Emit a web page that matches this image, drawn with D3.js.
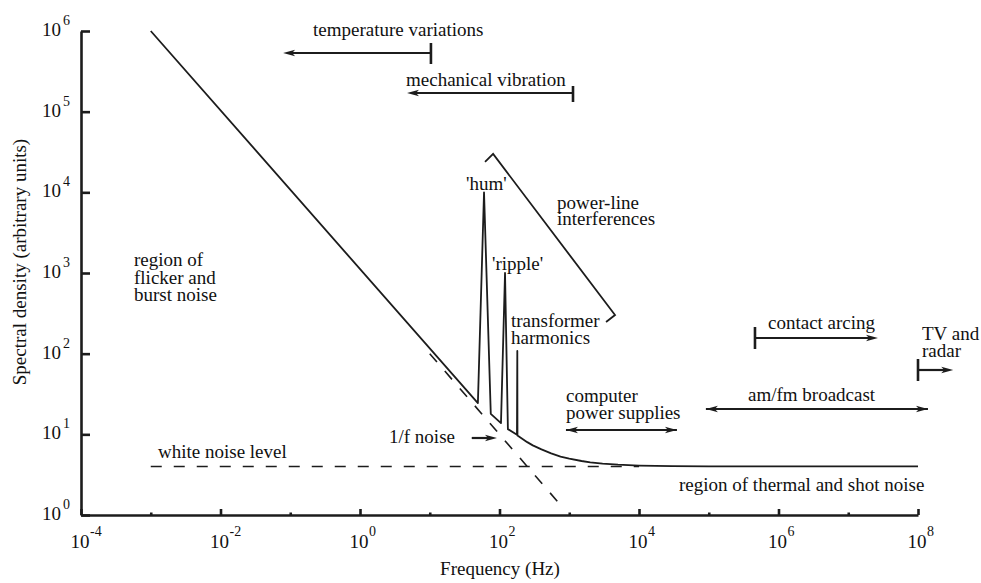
<!DOCTYPE html>
<html>
<head>
<meta charset="utf-8">
<script src="https://cdn.jsdelivr.net/npm/d3@7"></script>
<style>
  html, body { margin: 0; padding: 0; background: #fff; }
  svg { display: block; }
</style>
</head>
<body>
<script>
// Decade exponents for the axes
const xMajorExp = [-4, -2, 0, 2, 4, 6, 8];
const xMinorExp = [-3, -1, 1, 3, 5, 7];
const yMajorExp = [0, 1, 2, 3, 4, 5, 6];

// Total noise spectrum: [frequency Hz, spectral density]
const spectrum = [
  [1e-3, 1e6], [49, 24.4],
  [60, 1e4], [75, 17.9],
  [105, 13.8], [120, 1e3], [132, 11.6],
  [178, 9.9], [180, 108], [181, 9.7],
  [250, 8.0], [300, 7.3], [400, 6.5], [550, 5.8], [750, 5.3],
  [1000, 5.0], [1500, 4.67], [2000, 4.5], [3000, 4.33], [5000, 4.2],
  [1e4, 4.1], [3e4, 4.03], [1e5, 4.0], [1e8, 4.0]
];
// White noise floor and 1/f asymptote (dashed)
const whiteNoise = [[1e-3, 4], [1e4, 4]];
const flicker = [[10, 100], [750, 1.33]];
// Bracket over the power-line peaks
const powerLineBracket = [[62, 23800], [81, 29900], [4530, 301], [3370, 247]];

// Frequency ranges of interference sources
const sources = [
  { name: "temperature variations", from: 10.4, to: 0.079, bar: true },
  { name: "mechanical vibration", from: 1132, to: 4.72, bar: true },
  { name: "contact arcing", from: 4.6e5, to: 2.67e7, bar: true },
  { name: "TV and radar", from: 1e8, to: 3.2e8, bar: true },
  { name: "am/fm broadcast", from: 9.1e4, to: 1.39e8, bar: false },
  { name: "computer power supplies", from: 897, to: 3.5e4, bar: false },
  { name: "1/f noise", from: 40, to: 92, bar: false, single: true }
];

const W = 981, H = 583;
const FONT = "'Liberation Serif', Tinos, 'Times New Roman', Times, 'DejaVu Serif', serif";
const x = d3.scaleLog().domain([1e-4, 1e8]).range([81, 918]);
const y = d3.scaleLog().domain([1, 1e6]).range([515, 31]);

const svg = d3.select("body").append("svg").attr("width", W).attr("height", H)
  .attr("font-family", FONT);
const ink = "#1c1c1c";

// Axes with inward ticks
const xAx = svg.append("g").attr("transform", `translate(0,${y(1)})`)
  .call(d3.axisBottom(x).tickValues(xMajorExp.map(e => Math.pow(10, e)))
    .tickSize(-6).tickSizeOuter(0).tickFormat(""));
const xMin = svg.append("g").attr("transform", `translate(0,${y(1)})`)
  .call(d3.axisBottom(x).tickValues(xMinorExp.map(e => Math.pow(10, e)))
    .tickSize(-2.5).tickSizeOuter(0).tickFormat(""));
xMin.select(".domain").remove();
const yAx = svg.append("g").attr("transform", `translate(${x(1e-4)},0)`)
  .call(d3.axisLeft(y).tickValues(yMajorExp.map(e => Math.pow(10, e)))
    .tickSize(-9).tickSizeOuter(0).tickFormat(""));
[xAx, xMin, yAx].forEach(g => {
  g.attr("font-family", null);
  g.selectAll(".domain").attr("stroke", ink).attr("stroke-width", 2.6);
  g.selectAll(".tick line").attr("stroke", ink).attr("stroke-width", 2.6);
});

function label(px, py, str, size, anchor) {
  return svg.append("text").attr("x", px).attr("y", py).attr("font-size", size)
    .attr("text-anchor", anchor || "start").attr("fill", "#111")
    .style("font-family", FONT).text(str);
}

// Tick labels with superscript exponents
xMajorExp.forEach(e => {
  const px = x(Math.pow(10, e));
  label(px - 1, 548, "10", 19, "middle");
  label(px + 9, 536, e, 14);
});
yMajorExp.forEach(e => {
  const py = y(Math.pow(10, e));
  label(61, py + 5, "10", 19, "end");
  label(63, py - 6, e, 14);
});

// Axis titles
label(500, 575, "Frequency (Hz)", 19, "middle");
label(0, 0, "Spectral density (arbitrary units)", 19, "middle")
  .attr("transform", "translate(26,262) rotate(-90)");

const line = d3.line().x(d => x(d[0])).y(d => y(d[1]));

// Dashed reference levels
svg.append("path").datum(whiteNoise).attr("d", line).attr("fill", "none")
  .attr("stroke", ink).attr("stroke-width", 1.6).attr("stroke-dasharray", "11,12");
svg.append("path").datum(flicker).attr("d", line).attr("fill", "none")
  .attr("stroke", ink).attr("stroke-width", 1.6).attr("stroke-dasharray", "11,12");

// Spectrum
svg.append("path").datum(spectrum).attr("d", line).attr("fill", "none")
  .attr("stroke", ink).attr("stroke-width", 1.8).attr("stroke-linejoin", "round");

// Power-line bracket
svg.append("path").datum(powerLineBracket).attr("d", line).attr("fill", "none")
  .attr("stroke", ink).attr("stroke-width", 1.8);

// Arrow helper
function arrowHead(px, py, dir) {
  const L = 12, hw = 3.2;
  svg.append("path")
    .attr("d", `M${px},${py} L${px - dir * L},${py - hw} L${px - dir * (L - 3)},${py} L${px - dir * L},${py + hw} Z`)
    .attr("fill", ink);
}
const arrowY = {
  "temperature variations": 53,
  "mechanical vibration": 93,
  "contact arcing": 338,
  "TV and radar": 370,
  "am/fm broadcast": 409,
  "computer power supplies": 430,
  "1/f noise": 438
};
const barSpan = {
  "temperature variations": [43, 64],
  "mechanical vibration": [86, 102],
  "contact arcing": [327, 349],
  "TV and radar": [359, 381]
};
sources.forEach(s => {
  const x0 = x(s.from), x1 = x(s.to), py = arrowY[s.name];
  const dir = x1 > x0 ? 1 : -1;
  svg.append("line").attr("x1", x0).attr("x2", x1 - dir * 8).attr("y1", py).attr("y2", py)
    .attr("stroke", ink).attr("stroke-width", 2.2);
  arrowHead(x1, py, dir);
  if (s.bar) {
    const [b0, b1] = barSpan[s.name];
    svg.append("line").attr("x1", x0).attr("x2", x0).attr("y1", b0).attr("y2", b1)
      .attr("stroke", ink).attr("stroke-width", 2.6);
  } else if (!s.single) {
    svg.append("line").attr("x1", x0 + 8).attr("x2", x1).attr("y1", py).attr("y2", py)
      .attr("stroke", ink).attr("stroke-width", 2.2);
    arrowHead(x0, py, -dir);
  }
});

// Text annotations: [lines, x, first baseline, line step]
const notes = [
  [["temperature variations"], 313, 36, 0],
  [["mechanical vibration"], 406, 86, 0],
  [["'hum'"], 466, 190, 0],
  [["'ripple'"], 492, 270, 0],
  [["power-line", "interferences"], 557, 209, 16],
  [["transformer", "harmonics"], 511, 327, 17],
  [["region of", "flicker and", "burst noise"], 134, 266, 17.5],
  [["contact arcing"], 768, 329, 0],
  [["TV and", "radar"], 922, 340, 17],
  [["am/fm broadcast"], 748, 401, 0],
  [["computer", "power supplies"], 566, 402, 17],
  [["1/f noise"], 389, 443, 0],
  [["white noise level"], 158, 458, 0],
  [["region of thermal and shot noise"], 679, 491, 0]
];
notes.forEach(([lines, tx, ty, step]) => {
  lines.forEach((l, i) => label(tx, ty + i * step, l, 19));
});
</script>
</body>
</html>
